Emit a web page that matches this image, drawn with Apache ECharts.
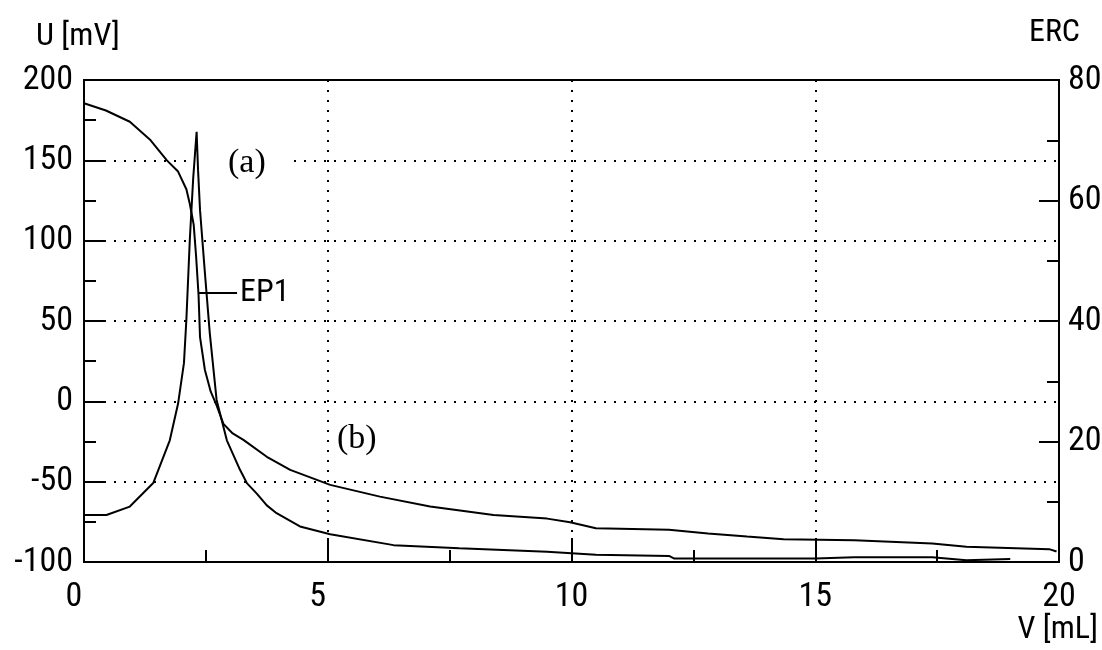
<!DOCTYPE html>
<html>
<head>
<meta charset="utf-8">
<script src="https://cdn.jsdelivr.net/npm/echarts@6/dist/echarts.min.js"></script>
<style>
html,body{margin:0;padding:0;background:#fff;}
#chart{width:1102px;height:650px;}
</style>
</head>
<body>
<div id="chart"></div>
<script>
// ---- data ----
// (a) potential curve: [volume mL, U mV]
var potentialCurve = [
  [0, 185.5], [0.45, 181], [0.94, 174], [1.35, 163], [1.7, 150], [1.93, 143],
  [2.1, 132], [2.17, 123], [2.25, 110], [2.3, 90], [2.35, 66], [2.38, 40],
  [2.48, 19.5], [2.6, 6], [2.72, -2.5], [2.86, -14], [3.05, -20], [3.27, -24],
  [3.75, -34.5], [4.23, -42.7], [5.05, -52], [6.07, -59.3], [7.1, -65.5],
  [8.4, -70.7], [9.5, -73], [9.97, -75.3], [10.5, -79], [12.0, -80],
  [12.8, -82.2], [13.6, -84.2], [14.35, -85.9], [15.8, -86.5], [17.4, -88.5],
  [18.1, -90.5], [19.8, -92], [19.95, -93.5]
];
// (b) ERC curve: [volume mL, ERC]
var ercCurve = [
  [0, 7.8], [0.46, 7.8], [0.94, 9.2], [1.42, 13.1], [1.76, 20.2], [1.93, 26.3],
  [2.05, 33], [2.1, 40.2], [2.17, 53.4], [2.24, 63.7], [2.31, 71.4], [2.34, 65],
  [2.38, 58.4], [2.48, 48], [2.58, 38], [2.72, 26.9], [2.93, 20.2], [3.2, 15.3],
  [3.34, 13.1], [3.54, 11.4], [3.75, 9.4], [3.95, 8.1], [4.43, 5.9], [5.05, 4.6],
  [6.35, 2.8], [7.7, 2.3], [9.5, 1.7], [10.5, 1.2], [12.0, 1.0], [12.1, 0.6],
  [15.0, 0.6], [15.8, 0.8], [17.4, 0.8], [18.1, 0.3], [19.0, 0.5]
];
var endPoint = [2.35, 67.4];      // EP1 marker (volume, U)
var endPointLabelEnd = [3.14, 67.4];
var leftAxisRange = [-100, 200, 50];
var rightAxisRange = [0, 80, 20];
var xAxisRange = [0, 20, 5];
var leftAxisName = 'U [mV]';
var rightAxisName = 'ERC';
var xAxisName = 'V [mL]';
var curveLabels = ['(a)', '(b)'];

// pick the narrowest installed regular-weight sans font for the instrument-style labels
function pickNarrow() {
  var cands = ['Liberation Sans Narrow', 'Arial Narrow', 'Roboto Condensed', 'Noto Sans Condensed',
               'DejaVu Sans Condensed', 'Liberation Sans'];
  var c = document.createElement('canvas').getContext('2d');
  function w(f) { c.font = '100px ' + f; return c.measureText('0123456789').width; }
  var bm = w('monospace'), bs = w('serif');
  var best = null, bestW = 1e9;
  for (var i = 0; i < cands.length; i++) {
    var f = "'" + cands[i] + "'";
    var a = w(f + ', monospace'), b = w(f + ', serif');
    if (Math.abs(a - bm) > 0.5 && Math.abs(b - bs) > 0.5 && Math.abs(a - b) < 0.5) {
      if (a < bestW) { bestW = a; best = f; }
    }
  }
  return {family: (best || "'DejaVu Sans Condensed'") + ', sans-serif', em: (best ? bestW : 572) / 1000};
}
var nf = pickNarrow();
var NARROW = nf.family;
var FS = Math.min(36, Math.round(17 / nf.em));
var FS_NAME = Math.min(34, Math.round(16 / nf.em));
var SERIF = "'Liberation Serif', 'DejaVu Serif', serif";

var chart = echarts.init(document.getElementById('chart'), null, {renderer: 'canvas'});

function axisCommon(tickLen, minorLen) {
  return {
    axisLine: {show: true, onZero: false, lineStyle: {color: '#000', width: 2}},
    axisTick: {show: true, inside: true, length: tickLen, lineStyle: {color: '#000', width: 2}},
    minorTick: {show: true, splitNumber: 2, length: minorLen, lineStyle: {color: '#000', width: 2}},
    axisLabel: {color: '#000', fontFamily: NARROW, fontSize: FS}
  };
}

var xa = axisCommon(24, 12);
xa.type = 'value';
xa.min = xAxisRange[0]; xa.max = xAxisRange[1]; xa.interval = xAxisRange[2];
xa.axisLabel.margin = 18;
xa.axisLabel.formatter = function (v) { return v < 10 ? '{p|' + v + '}' : String(v); };
xa.axisLabel.rich = {p: {padding: [0, 20, 0, 0], fontFamily: NARROW, fontSize: FS, color: '#000'}};
xa.splitLine = {show: true, lineStyle: {color: '#000', width: 2, type: [2, 8]}};

var yl = axisCommon(22, 12);
yl.type = 'value'; yl.position = 'left';
yl.min = leftAxisRange[0]; yl.max = leftAxisRange[1]; yl.interval = leftAxisRange[2];
yl.axisLabel.margin = 11;
yl.splitLine = {show: true, lineStyle: {color: '#000', width: 2, type: [2, 8]}};

var yr = axisCommon(20, 12);
yr.type = 'value'; yr.position = 'right';
yr.min = rightAxisRange[0]; yr.max = rightAxisRange[1]; yr.interval = rightAxisRange[2];
yr.axisLabel.margin = 9;
yr.splitLine = {show: false};

var option = {
  animation: false,
  backgroundColor: '#fff',
  grid: {left: 84, right: 43, top: 80, bottom: 88, show: true, borderColor: '#000', borderWidth: 2,
         containLabel: false, outerBoundsMode: 'none'},
  xAxis: xa,
  yAxis: [yl, yr],
  graphic: [
    {type: 'text', z: 10, style: {x: 36, y: 37, text: leftAxisName, font: FS_NAME + "px " + NARROW, fill: '#000', textAlign: 'left', textVerticalAlign: 'middle'}},
    {type: 'text', z: 10, style: {x: 1080, y: 33, text: rightAxisName, font: FS_NAME + "px " + NARROW, fill: '#000', textAlign: 'right', textVerticalAlign: 'middle'}},
    {type: 'text', z: 10, style: {x: 1098, y: 630, text: xAxisName, font: FS_NAME + "px " + NARROW, fill: '#000', textAlign: 'right', textVerticalAlign: 'middle'}},
    {type: 'text', z: 1, style: {x: 192, y: 163, text: curveLabels[0], font: "34px " + SERIF, fill: '#000', textAlign: 'left', textVerticalAlign: 'middle', backgroundColor: '#fff', padding: [4, 28, 4, 36]}},
    {type: 'text', z: 1, style: {x: 337, y: 439, text: curveLabels[1], font: "34px " + SERIF, fill: '#000', textAlign: 'left', textVerticalAlign: 'middle'}}
  ],
  series: [
    {
      name: 'U', type: 'line', xAxisIndex: 0, yAxisIndex: 0, z: 5,
      data: potentialCurve, showSymbol: false, symbol: 'none',
      lineStyle: {color: '#000', width: 2},
      markLine: {
        silent: true, symbol: ['none', 'none'], animation: false,
        lineStyle: {color: '#000', width: 2, type: 'solid'},
        label: {show: true, position: 'end', formatter: 'EP1', color: '#000', fontFamily: NARROW, fontSize: FS_NAME, distance: 3},
        data: [[{coord: endPoint}, {coord: endPointLabelEnd}]]
      }
    },
    {
      name: 'ERC', type: 'line', xAxisIndex: 0, yAxisIndex: 1, z: 5,
      data: ercCurve, showSymbol: false, symbol: 'none',
      lineStyle: {color: '#000', width: 2}
    }
  ]
};
chart.setOption(option);
</script>
</body>
</html>
